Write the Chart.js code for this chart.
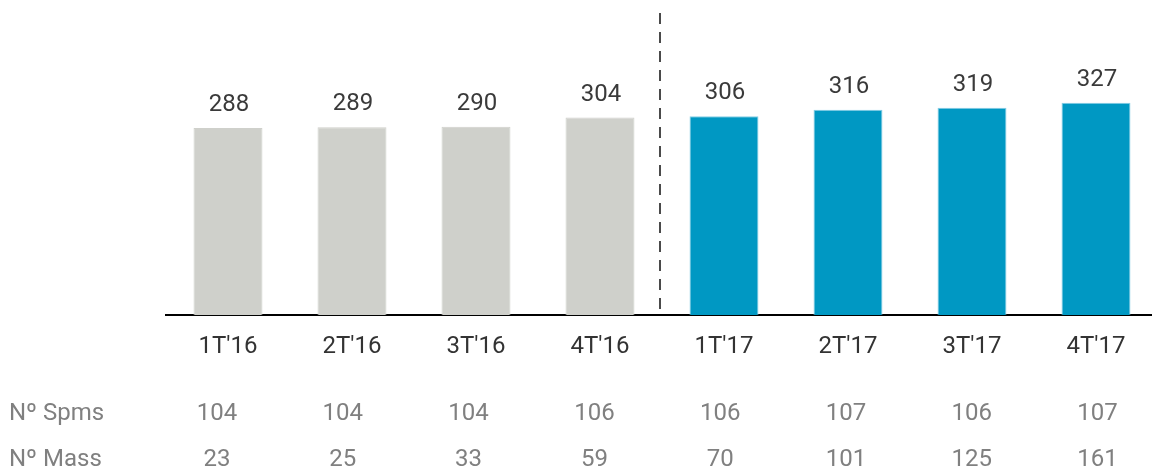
<!DOCTYPE html>
<html>
<head>
<meta charset="utf-8">
<script src="https://cdn.jsdelivr.net/npm/chart.js@4/dist/chart.umd.min.js"></script>
<style>
  html, body { margin: 0; padding: 0; background: #fff; overflow: hidden; }
  #wrap { width: 1152px; height: 473px; overflow: hidden; position: relative; }
  canvas { display: block; }
</style>
</head>
<body>
<div id="wrap"><canvas id="chart" width="1158" height="473"></canvas></div>
<script>
const categories = ["1T'16", "2T'16", "3T'16", "4T'16", "1T'17", "2T'17", "3T'17", "4T'17"];
const totals = [288, 289, 290, 304, 306, 316, 319, 327];
const spms = [104, 104, 104, 106, 106, 107, 106, 107];
const mass = [23, 25, 33, 59, 70, 101, 125, 161];
const rowLabels = ['Nº Spms', 'Nº Mass'];

const GRAY = '#CFD0CB';
const BLUE = '#0098C3';
const FONT = 'Roboto, "Noto Sans", sans-serif';

const fills = categories.map(c => c.endsWith("'16") ? GRAY : BLUE);
const borders = categories.map(c => c.endsWith("'16") ? GRAY : '#86CDE5');

// value labels above bars + dashed divider + table rows under the axis
const extras = {
  id: 'extras',
  afterDatasetsDraw(chart) {
    const ctx = chart.ctx;
    const meta = chart.getDatasetMeta(0);
    const area = chart.chartArea;
    const x = chart.scales.x;

    ctx.save();
    ctx.font = '24px ' + FONT;
    ctx.fillStyle = '#3a3a3a';
    ctx.textAlign = 'center';
    ctx.textBaseline = 'alphabetic';
    meta.data.forEach((bar, i) => {
      ctx.fillText(String(totals[i]), bar.x + 1, bar.y - 17);
    });

    // divider between 2016 and 2017
    const dx = Math.round((x.getPixelForValue(3) + x.getPixelForValue(4)) / 2) - 2;
    ctx.strokeStyle = '#4a4a4a';
    ctx.lineWidth = 2;
    ctx.setLineDash([11, 8]);
    ctx.beginPath();
    ctx.moveTo(dx, area.top);
    ctx.lineTo(dx, area.bottom);
    ctx.stroke();
    ctx.setLineDash([]);

    // table rows (columns a little wider spread than the bars)
    const x0 = x.getPixelForValue(0);
    const colX = i => x0 - 11 + (x.getPixelForValue(i) - x0) * 1.0145;
    const rows = [spms, mass];
    const rowY = [area.bottom + 99, area.bottom + 145];
    ctx.fillStyle = '#808080';
    ctx.textBaseline = 'middle';
    rows.forEach((vals, r) => {
      ctx.textAlign = 'left';
      ctx.fillText(rowLabels[r], 9, rowY[r]);
      ctx.textAlign = 'center';
      vals.forEach((v, i) => {
        ctx.fillText(String(v), colX(i), rowY[r]);
      });
    });
    ctx.restore();
  }
};

new Chart(document.getElementById('chart'), {
  type: 'bar',
  data: {
    labels: categories,
    datasets: [{
      data: totals,
      backgroundColor: fills,
      borderColor: borders,
      borderWidth: 1,
      barPercentage: 0.556,
      categoryPercentage: 1
    }]
  },
  options: {
    responsive: false,
    animation: false,
    layout: { padding: { left: 166, right: 0, top: 13, bottom: 0 } },
    plugins: {
      legend: { display: false },
      tooltip: { enabled: false }
    },
    scales: {
      x: {
        grid: { display: false, drawTicks: false },
        border: { display: true, color: '#000', width: 2 },
        ticks: { color: '#333', font: { family: FONT, size: 24 }, padding: 18 },
        afterFit: s => { s.height = 158; }
      },
      y: {
        display: false,
        min: 0,
        max: 465
      }
    }
  },
  plugins: [extras]
});
</script>
</body>
</html>
